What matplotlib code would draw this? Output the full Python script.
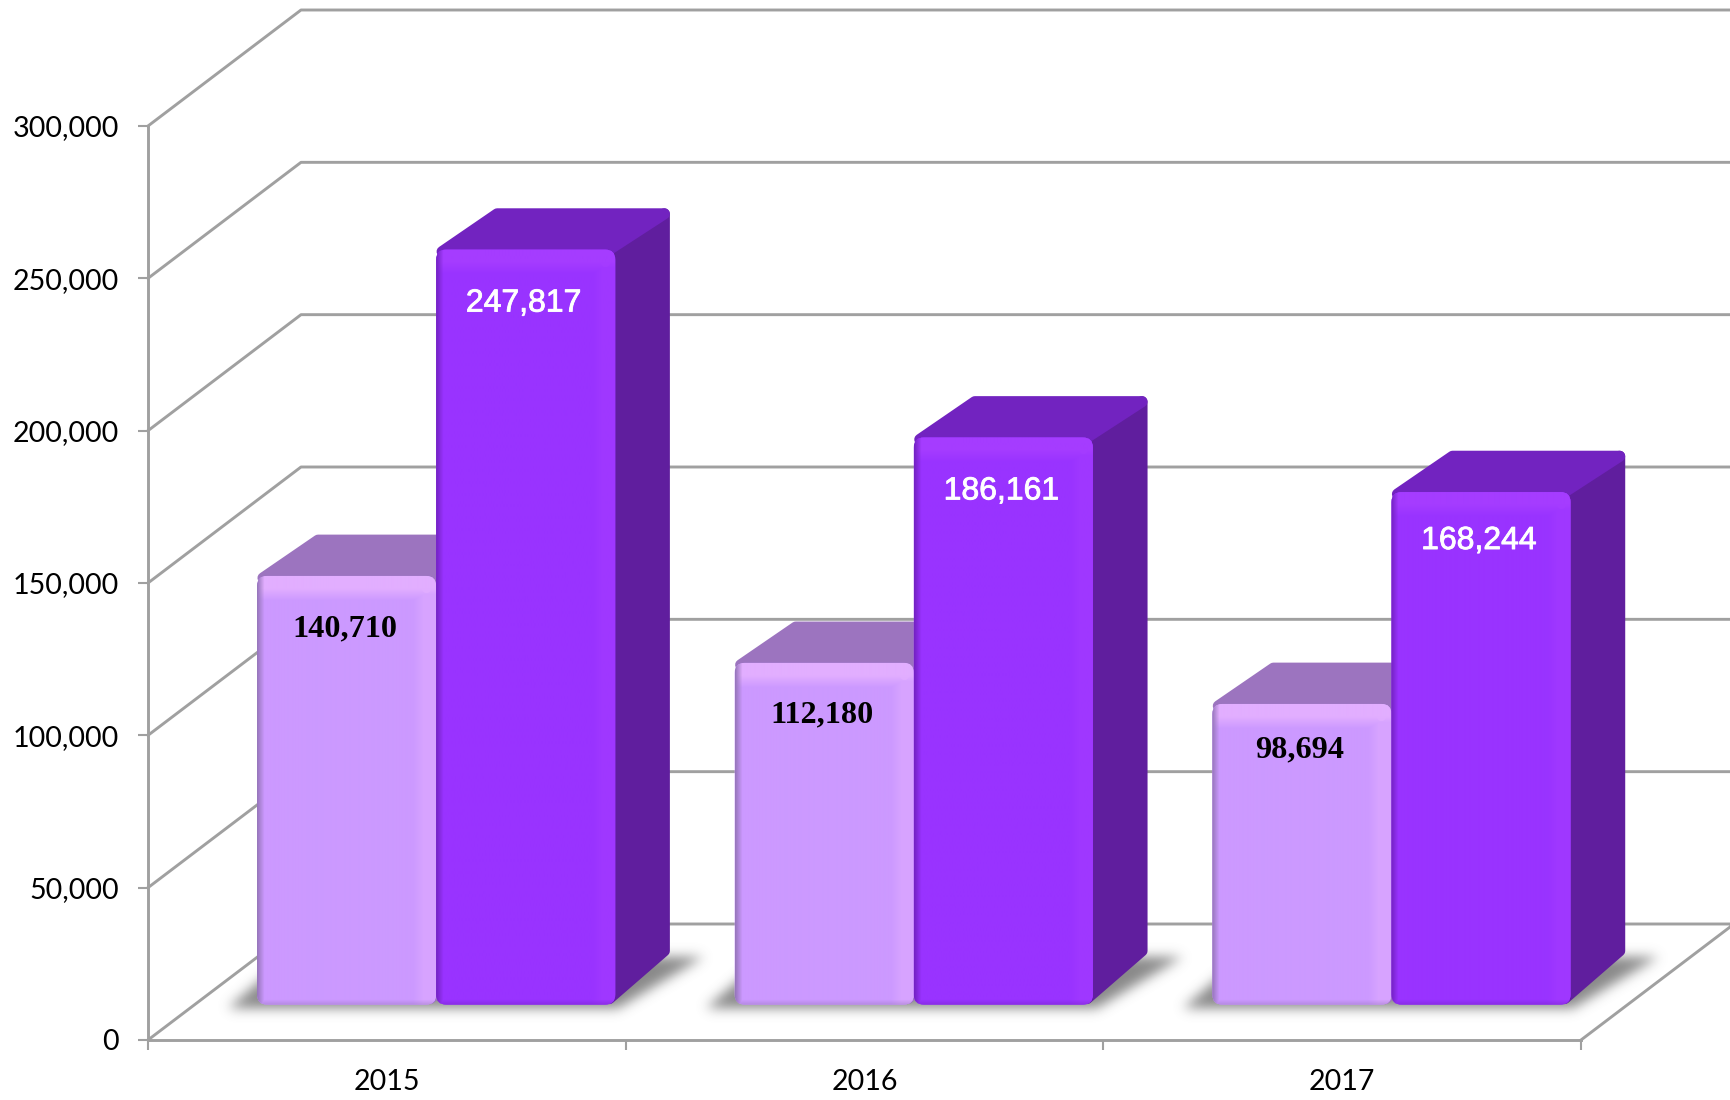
import numpy as np
import matplotlib
matplotlib.use("Agg")
import matplotlib.pyplot as plt
import matplotlib.patheffects as pe
from matplotlib.patches import FancyBboxPatch
from matplotlib.path import Path
from matplotlib.colors import to_rgb

years = ["2015", "2016", "2017"]
light_values = [140710, 112180, 98694]
dark_values = [247817, 186161, 168244]
y_ticks = [0, 50000, 100000, 150000, 200000, 250000, 300000]

# how far the value label sits below the bar top, in px
light_drop = [53, 52, 46]
dark_drop = [54, 54, 49]

GREY = "#a0a0a0"
W, H = 1731, 1100

# axes box = front of the chart, in px from top left
left, right, top, bottom = 148, 1581, 126, 1040
fig = plt.figure(figsize=(W / 100, H / 100), dpi=100)
ax = fig.add_axes([left / W, 1 - bottom / H, (right - left) / W, (bottom - top) / H])
ax.set_xlim(0, 3)
ax.set_ylim(0, 300000)

px = 3 / (right - left)      # one pixel in x data units
py = 300000 / (bottom - top) # one pixel in y data units

# oblique depth of the chart box
DX = 153 * px
DY = 116 * py
Z0 = 0.305
Z1 = 0.665
BAR_GAP = 0.1305
BAR_W = 0.375


def depth(x, y, z):
    return x + z * DX, y + z * DY


# walls and floor lines
for v in y_ticks:
    xs = [0, DX, 3 + DX] if v > 0 else [0, DX, 3 + DX, 3]
    ys = [v, v + DY, v + DY] if v > 0 else [0, DY, DY, 0]
    ax.plot(xs, ys, color=GREY, lw=2.1, clip_on=False, zorder=1, solid_joinstyle="round")


def shadow(x0, x1):
    # floor shadow: polygon mask blurred with a small gaussian
    sx0, base = depth(x0, 0, Z0)
    sx1 = x1 + Z0 * DX
    pts = [(sx0 - 30 * px, base - 4 * py), (sx1 + 2 * px, base - 4 * py),
           (sx1 + 88 * px, base + 48 * py), (sx0 + 30 * px, base + 48 * py)]
    gx = np.arange(sx0 - 70 * px, sx1 + 140 * px, px)
    gy = np.arange(base - 40 * py, base + 90 * py, py)
    xx, yy = np.meshgrid(gx, gy)
    mask = Path(pts).contains_points(np.c_[xx.ravel(), yy.ravel()]).reshape(xx.shape).astype(float)
    k = np.exp(-0.5 * (np.arange(-18, 19) / 6.0) ** 2)
    k = k / k.sum()
    mask = np.apply_along_axis(lambda r: np.convolve(r, k, mode="same"), 1, mask)
    mask = np.apply_along_axis(lambda c: np.convolve(c, k, mode="same"), 0, mask)
    rgba = np.zeros(mask.shape + (4,))
    rgba[..., :3] = 0.42
    rgba[..., 3] = mask * 0.8
    im = ax.imshow(rgba, extent=(gx[0], gx[-1], gy[0], gy[-1]), origin="lower", aspect="auto", zorder=2)
    im.set_clip_on(False)


def face_image(w, h, base, hi, lo):
    # shaded front of a bar: dark left edge, lighter top band and right strip
    base, hi, lo = np.array(to_rgb(base)), np.array(to_rgb(hi)), np.array(to_rgb(lo))
    img = np.ones((h, w, 3)) * base
    xx, yy = np.meshgrid(np.arange(w), np.arange(h))
    right_strip = np.clip((xx - (w - 24)) / 10, 0, 1) * 0.5
    top_band = np.clip((24 - yy) / 12, 0, 1)
    left_edge = np.clip((7 - xx) / 7, 0, 1)
    bottom_edge = np.clip((yy - (h - 6)) / 6, 0, 1) * 0.5
    a = np.maximum(right_strip, top_band)[..., None]
    img = img * (1 - a) + hi * a
    b = np.maximum(left_edge, bottom_edge)[..., None]
    img = img * (1 - b) + lo * b
    return img


def bar(x0, value, order, front, hi, lo, top_col, side_col):
    x1 = x0 + BAR_W
    fx0, fy0 = depth(x0, 0, Z0)
    fx1, fy1 = depth(x1, value, Z0)
    bx0, by1 = depth(x0, value, Z1)
    bx1, by0 = depth(x1, 0, Z1)

    # side then top face, with a fat round join for the soft corners
    ix, iy = 6 * px, 6 * py
    ax.fill([fx1 - ix, bx1 - ix, bx1 - ix, fx1 - ix], [fy1 - iy, by1 - iy, by0 + 2 * iy, fy0 + iy],
            facecolor=side_col, edgecolor=side_col, lw=8, joinstyle="round", zorder=order, clip_on=False)
    ax.fill([fx0 + 6 * px, fx1 - ix, bx1 - ix, bx0 + 6 * px], [fy1 - 2 * py, fy1, by1 - iy, by1 - iy],
            facecolor=top_col, edgecolor=top_col, lw=8, joinstyle="round", zorder=order, clip_on=False)

    w = int(round((fx1 - fx0) / px))
    h = int(round((fy1 - fy0) / py))
    clip = FancyBboxPatch((fx0, fy0), fx1 - fx0, fy1 - fy0,
                          boxstyle="round,pad=0,rounding_size=%f" % (10 * px),
                          mutation_aspect=py / px, facecolor=front, edgecolor="none", zorder=order)
    ax.add_patch(clip)
    im = ax.imshow(face_image(w, h, front, hi, lo), extent=(fx0, fx1, fy0, fy1), aspect="auto",
                   interpolation="bilinear", zorder=order + 0.1)
    im.set_clip_path(clip)
    # bright spot on the top right corner
    ax.scatter([fx1 - 10 * px], [fy1 - 12 * py], s=45, color=hi, alpha=0.7, lw=0, zorder=order + 0.2)
    return fx0, fx1


for i in range(len(years)):
    shadow(i + BAR_GAP, i + BAR_GAP + 2 * BAR_W)

for i, year in enumerate(years):
    x0 = i + BAR_GAP
    a0, a1 = bar(x0, light_values[i], 3 + 2 * i, "#cc99ff", "#e2aeff", "#9877bd", "#9c74bf", "#9c74bf")
    ax.text((a0 + a1) / 2 - 2 * px, light_values[i] + Z0 * DY - light_drop[i] * py,
            f"{light_values[i]:,}", family="Liberation Serif", weight="bold", fontsize=23.2,
            ha="center", va="center", color="black", zorder=20)
    b0, b1 = bar(x0 + BAR_W, dark_values[i], 4 + 2 * i, "#9933ff", "#a53cff", "#7423c4", "#7223c0", "#601e9e")
    ax.text((b0 + b1) / 2 - 2 * px, dark_values[i] + Z0 * DY - dark_drop[i] * py,
            f"{dark_values[i]:,}", family="Liberation Sans", fontsize=23,
            ha="center", va="center", color="white", zorder=20,
            path_effects=[pe.withStroke(linewidth=0.6, foreground="white")])

ax.set_xlim(0, 3)
ax.set_ylim(0, 300000)
ax.patch.set_visible(False)

for s in ["top", "right"]:
    ax.spines[s].set_visible(False)
ax.spines["bottom"].set_bounds(0, 3)
for s in ["left", "bottom"]:
    ax.spines[s].set_color(GREY)
    ax.spines[s].set_linewidth(2.1)
    ax.spines[s].set_zorder(1.5)

ax.set_yticks(y_ticks)
ax.set_yticklabels([f"{v:,}" for v in y_ticks], family="Lato", fontsize=20.6)
ax.set_xticks([0, 1, 2, 3])
ax.set_xticklabels([])
ax.set_xticks([0.5, 1.5, 2.5], minor=True)
ax.set_xticklabels(years, minor=True, family="Lato", fontsize=20.6)
ax.tick_params(axis="y", color=GREY, width=1.5, length=7, pad=14)
ax.tick_params(axis="x", which="major", color=GREY, width=1.5, length=7)
ax.tick_params(axis="x", which="minor", length=0, pad=21)

fig.savefig("out.png", dpi=100, facecolor="white")
